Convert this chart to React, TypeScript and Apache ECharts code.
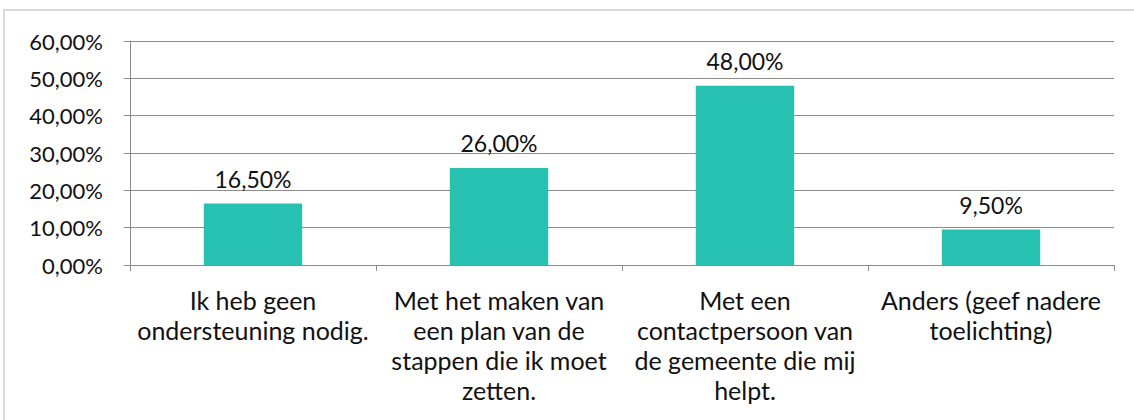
import React, { useEffect, useRef } from "react";
import * as echarts from "echarts";

const categories = [
  "Ik heb geen\nondersteuning nodig.",
  "Met het maken van\neen plan van de\nstappen die ik moet\nzetten.",
  "Met een\ncontactpersoon van\nde gemeente die mij\nhelpt.",
  "Anders (geef nadere\ntoelichting)",
];
const values = [16.5, 26, 48, 9.5];
const yMin = 0;
const yMax = 60;
const yInterval = 10;

const fmt = (v: number) => v.toFixed(2).replace(".", ",") + "%";

export default function App() {
  const ref = useRef<HTMLDivElement>(null);
  useEffect(() => {
    if (!ref.current) return;
    const chart = echarts.init(ref.current, null, { renderer: "svg" });
    const font = "Lato, 'Open Sans', sans-serif";
    chart.setOption({
      animation: false,
      backgroundColor: "#ffffff",
      textStyle: { fontFamily: font },
      graphic: [
        {
          type: "rect",
          shape: { x: 4, y: 10, width: 1140, height: 420 },
          style: { fill: "none", stroke: "#d9d9d9", lineWidth: 2 },
          silent: true,
        },
      ],
      grid: { left: 130, right: 20, top: 41, bottom: 155 },
      xAxis: {
        type: "category",
        data: categories,
        boundaryGap: true,
        axisLine: { show: true, lineStyle: { color: "#8c8c8c", width: 1 } },
        axisTick: { show: true, alignWithLabel: false, length: 6, lineStyle: { color: "#8c8c8c" } },
        axisLabel: {
          interval: 0,
          color: "#111",
          fontFamily: font,
          fontSize: 25,
          lineHeight: 30,
          margin: 20,
          align: "center",
        },
      },
      yAxis: {
        type: "value",
        min: yMin,
        max: yMax,
        interval: yInterval,
        axisLine: { show: true, lineStyle: { color: "#8c8c8c", width: 1 } },
        axisTick: { show: true, length: 6, lineStyle: { color: "#8c8c8c" } },
        splitLine: { show: true, lineStyle: { color: "#8c8c8c", width: 1 } },
        axisLabel: {
          color: "#111",
          fontFamily: font,
          fontSize: 22,
          margin: 27,
          formatter: (v: number) => fmt(v),
        },
      },
      series: [
        {
          type: "bar",
          data: values,
          barWidth: "40%",
          itemStyle: { color: "#26C1B1" },
          label: {
            show: true,
            position: "top",
            distance: 13,
            color: "#111",
            fontFamily: font,
            fontSize: 23,
            formatter: (p: any) => fmt(p.value),
          },
        },
      ],
    });
    return () => chart.dispose();
  }, []);
  return (
    <div
      ref={ref}
      style={{ position: "fixed", left: 0, top: 0, width: 1134, height: 420 }}
    />
  );
}
